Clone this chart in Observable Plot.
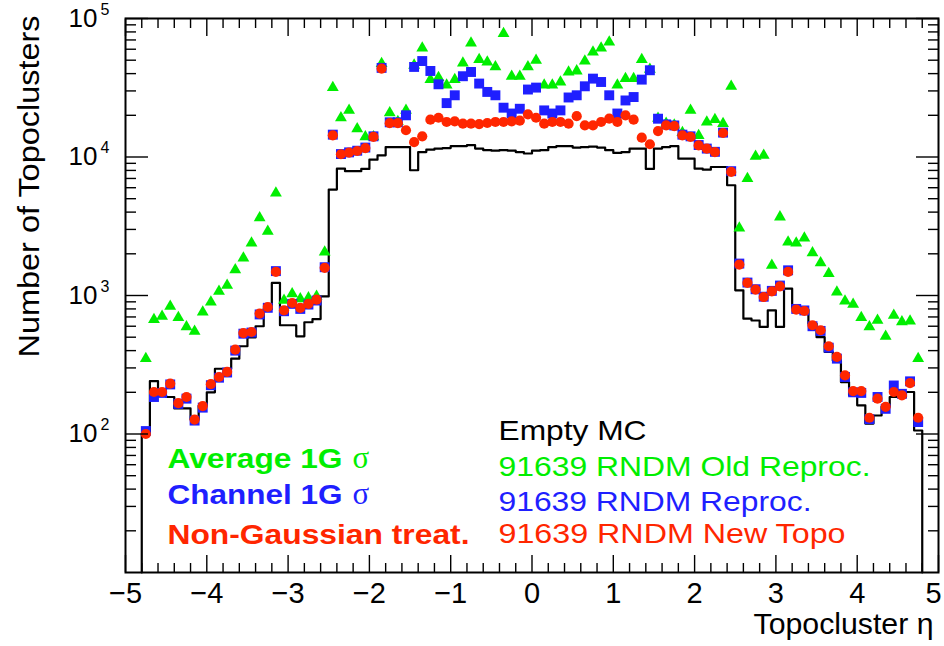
<!DOCTYPE html>
<html><head><meta charset="utf-8">
<script src="https://cdn.jsdelivr.net/npm/d3@7"></script>
<script src="https://cdn.jsdelivr.net/npm/@observablehq/plot@0.6"></script>
<style>
body{margin:0;background:#fff}
#chart svg{font-family:"Liberation Sans",Arial,Helvetica,sans-serif;background:#fff}
</style>
</head><body><div id="chart"></div>
<script>
// bins: 96 bins of width 0.1 from eta = -4.8 to 4.8
const binLow = -4.8, binWidth = 0.1;

const emptyMC = [100,241,190,185,153,153,127,160,200,296,
 296,350,430,498,600,800,1232,610,610,507,
 641,676,985,5820,8240,7900,7900,8200,9570,10280,
 11800,11800,11800,8020,10860,11300,11500,11600,12000,12000,
 12200,11500,11200,11100,11200,11100,10860,10600,11100,11200,
 11800,12000,12000,11700,11800,11900,11700,11200,10700,10860,
 11500,11500,8200,11500,11800,12000,9730,9730,8240,8100,
 8470,8470,6250,1089,680,660,593,782,593,1122,
 812,790,624,500,391,340,237,190,161,119,
 136,157,185,185,201,106];

const oldReproc = [350,670,708,836,692,593,552,760,898,1072,
 1186,1530,1866,2393,3631,2910,5495,922,1028,946,
 960,985,2060,31700,19200,21700,16000,13960,14000,47200,
 20800,18000,21700,46000,61200,36200,37400,33000,36200,47700,
 66500,50500,48500,44700,77800,38300,38300,44700,49900,33000,
 33000,34800,41100,41800,49300,57200,61200,67600,33000,36800,
 36800,50500,43000,19000,17500,17000,15000,21700,14300,17900,
 18600,17400,32400,3070,6990,10100,10290,1652,3690,2430,
 2390,2600,2030,1718,1440,1059,912,865,692,593,
 662,507,719,646,654,350];

const reproc = [105,185,198,228,165,180,125,155,225,255,
 278,400,530,540,730,815,1500,770,870,800,
 860,920,1600,14500,10500,10800,11100,11700,14100,44000,
 17800,17800,20000,44700,49300,41800,33500,24500,27900,38300,
 41100,33900,29500,27900,22700,20600,22300,30700,31700,21700,
 20600,21700,26900,27900,32400,36800,34800,27900,20600,25600,
 27100,36200,42300,18900,17200,16900,14500,14100,12200,11500,
 10900,15000,7900,1700,1240,1110,980,1080,1180,1520,
 800,780,600,555,420,350,258,200,198,128,
 185,152,224,195,240,122];

const newTopo = [100,201,201,231,167,185,127,159,229,258,
 281,406,535,545,740,826,1479,782,883,813,
 871,933,1585,14350,10470,10770,11050,11600,13960,43500,
 17540,17540,15600,12800,14100,18600,19200,17900,18100,17400,
 17400,17300,17600,17900,17900,18100,18300,20300,19200,17400,
 17900,17900,17400,19700,16900,16900,17900,18900,17900,20000,
 18600,13800,12360,15400,16900,16700,14350,13960,12130,11480,
 10860,14900,7800,1672,1232,1104,975,1072,1165,1479,
 791,773,610,561,430,360,265,204,204,131,
 180,157,201,190,233,131];

const xTicks = [-5,-4,-3,-2,-1,0,1,2,3,4,5];
const xTickLabels = ["\u22125","\u22124","\u22123","\u22122","\u22121","0","1","2","3","4","5"];
const yTicks = [100,1000,10000,100000];
const yExponents = ["2","3","4","5"];

const legendRight = ["Empty MC","91639 RNDM Old Reproc.","91639 RNDM Reproc.","91639 RNDM New Topo"];
const legendLeft = ["Average 1G","Channel 1G","Non-Gaussian treat."];

const cBlack = "#000000", cGreen = "#00ee00", cBlue = "#1f1fff", cRed = "#ff2600";

// derived tables
const centers = emptyMC.map((_, i) => +(binLow + binWidth * (i + 0.5)).toFixed(3));
const edges = emptyMC.map((_, i) => +(binLow + binWidth * i).toFixed(3));
const hiEdge = +(binLow + binWidth * emptyMC.length).toFixed(3);
const yFloor = 10;
const hist = [{x: edges[0], y: yFloor},
  ...emptyMC.map((v, i) => ({x: edges[i], y: v})),
  {x: hiEdge, y: emptyMC[emptyMC.length - 1]},
  {x: hiEdge, y: yFloor}];
const series = arr => arr.map((v, i) => ({x: centers[i], y: v}));

const xMinor = [];
for (let i = 0; i < xTicks.length - 1; i++) for (let k = 1; k < 5; k++) xMinor.push(+(xTicks[i] + k * 0.2).toFixed(2));
const yMinor = [];
for (const dec of [10,100,1000,10000]) for (let k = 2; k < 10; k++) yMinor.push(k * dec);

const xInner = xTicks.slice(0, -1), xLast = xTicks.slice(-1);
const fmtX = d => xTickLabels[xTicks.indexOf(d)];

const W = 944, H = 646;

const chart = Plot.plot({
  width: W, height: H,
  marginLeft: 125, marginRight: 6, marginTop: 18, marginBottom: 74,
  x: {domain: [-5, 5]},
  y: {type: "log", domain: [10, 100000]},
  marks: [
    // histogram
    Plot.line(hist, {x: "x", y: "y", curve: "step-after", stroke: cBlack, strokeWidth: 2.2}),
    // markers
    Plot.dot(series(oldReproc), {x: "x", y: "y", symbol: "triangle", r: 4.4, fill: cGreen, stroke: "none"}),
    Plot.dot(series(reproc), {x: "x", y: "y", symbol: "square", r: 5.6, fill: cBlue, stroke: "none"}),
    Plot.dot(series(newTopo), {x: "x", y: "y", symbol: "circle", r: 5.1, fill: cRed, stroke: "none"}),
    // inward ticks
    Plot.axisX(xTicks, {anchor: "bottom", tickSize: -17, fill: "none", label: null, strokeWidth: 1.4}),
    Plot.axisX(xMinor, {anchor: "bottom", tickSize: -9, fill: "none", label: null, strokeWidth: 1.4}),
    Plot.axisX(xTicks, {anchor: "top", tickSize: -17, fill: "none", label: null, strokeWidth: 1.4}),
    Plot.axisX(xMinor, {anchor: "top", tickSize: -9, fill: "none", label: null, strokeWidth: 1.4}),
    Plot.axisY(yTicks, {anchor: "left", tickSize: -23, fill: "none", label: null, strokeWidth: 1.4}),
    Plot.axisY(yMinor, {anchor: "left", tickSize: -11, fill: "none", label: null, strokeWidth: 1.4}),
    Plot.axisY(yTicks, {anchor: "right", tickSize: -23, fill: "none", label: null, strokeWidth: 1.4}),
    Plot.axisY(yMinor, {anchor: "right", tickSize: -11, fill: "none", label: null, strokeWidth: 1.4}),
    // tick labels
    Plot.axisX(xInner, {anchor: "bottom", tickSize: 0, tickPadding: 10, label: null,
      tickFormat: fmtX, fontSize: 29, fill: cBlack}),
    Plot.axisX(xLast, {anchor: "bottom", tickSize: 0, tickPadding: 10, label: null, dx: -5,
      tickFormat: fmtX, fontSize: 29, fill: cBlack}),
    Plot.axisY(yTicks, {anchor: "left", tickSize: 0, tickPadding: 28, label: null,
      tickFormat: () => "10", fontSize: 26, fill: cBlack}),
    Plot.text(yTicks, {y: d => d, text: (d, i) => yExponents[i], frameAnchor: "left", dx: -25, dy: -9,
      textAnchor: "start", lineAnchor: "middle", fontSize: 16, fill: cBlack}),
    // axis titles
    Plot.text(["Topocluster \u03b7"], {frameAnchor: "top-left", dx: 933 - 125, dy: 633 - 18,
      textAnchor: "end", lineAnchor: "bottom", fontSize: 30, fill: cBlack}),
    Plot.text(["Number of Topoclusters"], {frameAnchor: "top-left", dx: 29 - 125, dy: 186 - 18, rotate: -90,
      textAnchor: "middle", lineAnchor: "middle", fontSize: 29, fill: cBlack}),
    // legend right
    Plot.text([legendRight[0]], {frameAnchor: "top-left", dx: 498 - 125, dy: 439 - 18, textAnchor: "start", lineAnchor: "bottom", fontSize: 28, fill: cBlack}),
    Plot.text([legendRight[1]], {frameAnchor: "top-left", dx: 498 - 125, dy: 475 - 18, textAnchor: "start", lineAnchor: "bottom", fontSize: 28, fill: cGreen}),
    Plot.text([legendRight[2]], {frameAnchor: "top-left", dx: 498 - 125, dy: 510 - 18, textAnchor: "start", lineAnchor: "bottom", fontSize: 28, fill: cBlue}),
    Plot.text([legendRight[3]], {frameAnchor: "top-left", dx: 498 - 125, dy: 542 - 18, textAnchor: "start", lineAnchor: "bottom", fontSize: 28, fill: cRed}),
    // legend left (bold)
    Plot.text([legendLeft[0]], {frameAnchor: "top-left", dx: 167 - 125, dy: 467 - 18, textAnchor: "start", lineAnchor: "bottom", fontSize: 28, fontWeight: "bold", fill: cGreen}),
    Plot.text([legendLeft[1]], {frameAnchor: "top-left", dx: 167 - 125, dy: 503 - 18, textAnchor: "start", lineAnchor: "bottom", fontSize: 28, fontWeight: "bold", fill: cBlue}),
    Plot.text([legendLeft[2]], {frameAnchor: "top-left", dx: 167 - 125, dy: 543 - 18, textAnchor: "start", lineAnchor: "bottom", fontSize: 28, fontWeight: "bold", fill: cRed}),
    Plot.text(["\u03c3"], {frameAnchor: "top-left", dx: 352 - 125, dy: 467 - 18, textAnchor: "start", lineAnchor: "bottom", fontSize: 31, fontFamily: '"Liberation Serif",serif', fill: cGreen}),
    Plot.text(["\u03c3"], {frameAnchor: "top-left", dx: 352 - 125, dy: 503 - 18, textAnchor: "start", lineAnchor: "bottom", fontSize: 31, fontFamily: '"Liberation Serif",serif', fill: cBlue}),
    // frame
    Plot.frame({stroke: cBlack, strokeWidth: 2})
  ]
});
document.getElementById("chart").appendChild(chart);

// fit text lengths to the reference
const lengths = {
  "Empty MC": 148, "91639 RNDM Old Reproc.": 372, "91639 RNDM Reproc.": 313, "91639 RNDM New Topo": 347,
  "Average 1G": 175, "Channel 1G": 175, "Non-Gaussian treat.": 302,
  "Number of Topoclusters": 342, "Topocluster \u03b7": 180
};
d3.select(chart).selectAll("text").each(function() {
  const L = lengths[this.textContent];
  if (L) { this.setAttribute("textLength", L); this.setAttribute("lengthAdjust", "spacingAndGlyphs"); }
});
</script>
</body></html>
